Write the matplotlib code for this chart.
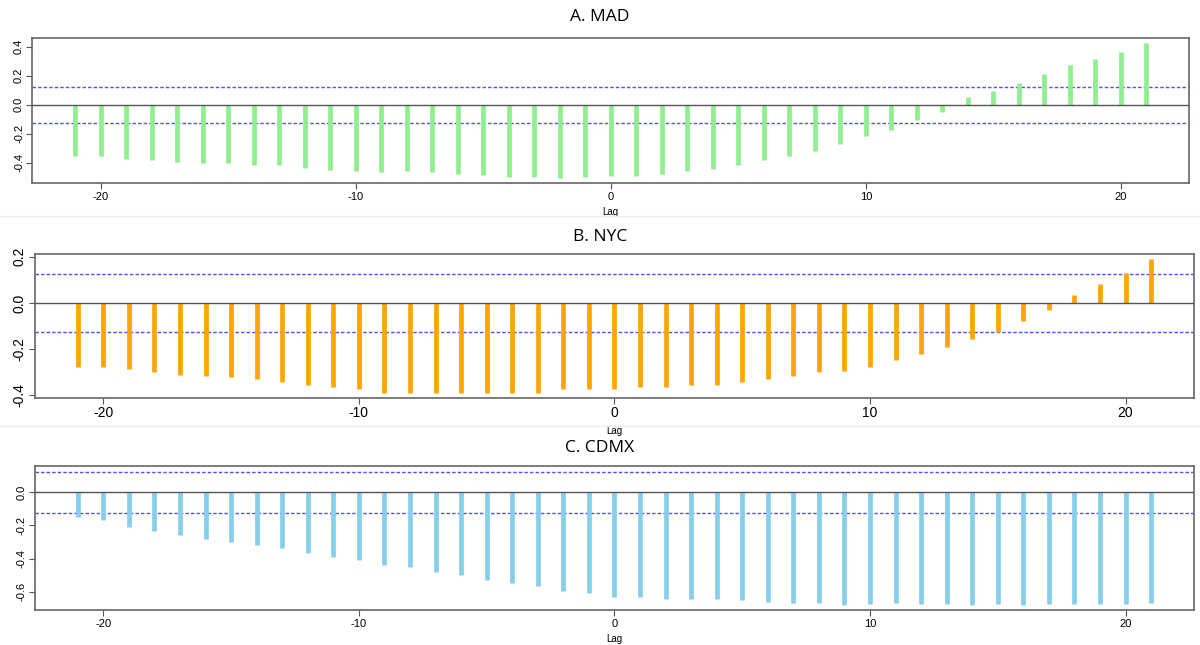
import numpy as np
import matplotlib as mpl
import matplotlib.pyplot as plt
from matplotlib.lines import Line2D

# lags shared by all three panels
lags = np.arange(-21, 22)

# cross-correlation values
mad = [-0.354, -0.354, -0.370, -0.377, -0.393, -0.398, -0.398, -0.418, -0.418, -0.437,
       -0.446, -0.457, -0.462, -0.459, -0.464, -0.478, -0.485, -0.498, -0.498, -0.503,
       -0.498, -0.490, -0.490, -0.478, -0.459, -0.441, -0.418, -0.377, -0.354, -0.320,
       -0.267, -0.217, -0.174, -0.103, -0.048, 0.053, 0.096, 0.153, 0.213, 0.274,
       0.313, 0.363, 0.423]
nyc = [-0.275, -0.275, -0.286, -0.297, -0.310, -0.317, -0.320, -0.330, -0.341, -0.353,
       -0.363, -0.374, -0.388, -0.388, -0.388, -0.388, -0.388, -0.388, -0.388, -0.374,
       -0.374, -0.374, -0.363, -0.363, -0.353, -0.353, -0.341, -0.330, -0.317, -0.299,
       -0.296, -0.275, -0.246, -0.222, -0.192, -0.156, -0.125, -0.080, -0.031, 0.034,
       0.081, 0.131, 0.188]
cdmx = [-0.152, -0.170, -0.210, -0.232, -0.255, -0.279, -0.299, -0.316, -0.334, -0.368,
        -0.388, -0.406, -0.436, -0.448, -0.480, -0.498, -0.528, -0.548, -0.566, -0.592,
        -0.608, -0.632, -0.632, -0.642, -0.642, -0.640, -0.646, -0.660, -0.664, -0.664,
        -0.676, -0.674, -0.666, -0.672, -0.672, -0.678, -0.672, -0.678, -0.674, -0.670,
        -0.670, -0.674, -0.668]

ci = 1.96 / np.sqrt(250)  # significance band

titles = ["A. MAD", "B. NYC", "C. CDMX"]
series = [mad, nyc, cdmx]
colors = ["#90EE90", "#FFA500", "#87CEEB"]
yticks = [[-0.4, -0.2, 0.0, 0.2, 0.4], [-0.4, -0.2, 0.0, 0.2], [-0.6, -0.4, -0.2, 0.0]]
tick_sizes = [8, 10, 8]

# axes boxes in figure fractions [left, bottom, width, height]
boxes = [[0.027, 0.716, 0.964, 0.225],
         [0.029, 0.383, 0.966, 0.223],
         [0.029, 0.054, 0.966, 0.223]]
title_y = [0.974, 0.633, 0.305]

plt.rcParams['font.family'] = ['Liberation Sans', 'DejaVu Sans']
plt.rcParams['axes.unicode_minus'] = False

fig = plt.figure(figsize=(12, 6.45), dpi=100)

for vals, col, title, box, ty, yt, ts in zip(series, colors, titles, boxes, title_y,
                                             yticks, tick_sizes):
    ax = fig.add_axes(box)
    vals = np.array(vals)
    ax.vlines(lags, 0, vals, colors=col, lw=3.4, zorder=2)
    ax.axhline(0, color="#555555", lw=1.0, zorder=3)
    for c in (ci, -ci):
        ax.axhline(c, color="#5050ff", lw=1.0, ls=(0, (2.5, 1.5)), zorder=1)

    # R-style 4% padding on the data range
    lo = min(vals.min(), -ci)
    hi = max(vals.max(), ci)
    pad = 0.04 * (hi - lo)
    ax.set_ylim(lo - pad, hi + pad)
    ax.set_xlim(-22.68, 22.68)

    ax.set_xticks([-20, -10, 0, 10, 20])
    ax.set_yticks(yt)
    ax.set_yticklabels([f"{v:.1f}" for v in yt], rotation=90, va="center")
    ax.tick_params(labelsize=ts, length=4, width=0.8, color="#555555", pad=2)
    ax.set_xlabel("Lag", fontsize=7, labelpad=4)
    for sp in ax.spines.values():
        sp.set_color("#666666")
        sp.set_linewidth(1.2)

    fig.text(0.5, ty, title, ha="center", va="center", fontsize=12.5,
             family=["Open Sans", "DejaVu Sans"])

# faint seams between the stacked screenshots
for yy in (1 - 216 / 645, 1 - 426 / 645):
    fig.add_artist(Line2D([0, 1], [yy, yy], color="#eeeeee", lw=1.0))

plt.savefig("out.png", dpi=100)
